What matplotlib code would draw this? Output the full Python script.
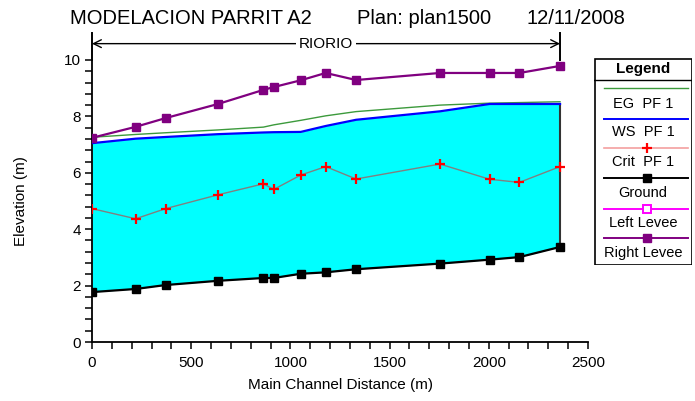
import numpy as np
import matplotlib
matplotlib.use("Agg")
import matplotlib.pyplot as plt
from matplotlib.lines import Line2D

plt.rcParams['font.family'] = ['Liberation Sans', 'DejaVu Sans']

# Profile data along the reach (main channel distance in m)
distance = [0, 220, 371, 635, 864, 916, 1052, 1178, 1331, 1754, 2004, 2154, 2359]
eg_pf1 = [7.26, 7.36, 7.42, 7.52, 7.62, 7.70, 7.86, 8.02, 8.17, 8.40, 8.47, 8.49, 8.52]
ws_pf1 = [7.05, 7.21, 7.27, 7.37, 7.43, 7.44, 7.45, 7.66, 7.88, 8.18, 8.44, 8.44, 8.44]
crit_pf1 = [4.73, 4.37, 4.73, 5.22, 5.61, 5.41, 5.92, 6.22, 5.78, 6.31, 5.77, 5.66, 6.22]
ground = [1.77, 1.88, 2.02, 2.17, 2.27, 2.27, 2.42, 2.47, 2.58, 2.78, 2.92, 3.01, 3.37]
right_levee = [7.24, 7.63, 7.94, 8.44, 8.94, 9.04, 9.28, 9.54, 9.29, 9.54, 9.54, 9.54, 9.79]

reach_name = "RIORIO"
title_parts = ["MODELACION PARRIT A2", "Plan: plan1500", "12/11/2008"]
legend_labels = ["EG  PF 1", "WS  PF 1", "Crit  PF 1", "Ground", "Left Levee", "Right Levee"]

W, H = 695, 401
fig = plt.figure(figsize=(W / 100, H / 100), dpi=100)

# main axes placed in pixel coordinates
ax_l, ax_r, ax_t, ax_b = 92, 588, 60, 342
ax = fig.add_axes([ax_l / W, 1 - ax_b / H, (ax_r - ax_l) / W, (ax_b - ax_t) / H])

x = np.array(distance)
ax.fill_between(x, ground, ws_pf1, color='#00ffff', lw=0, zorder=1)
ax.plot([x[-1], x[-1]], [ground[-1], ws_pf1[-1]], color='#333333', lw=1.5, zorder=2)
ax.plot(x, eg_pf1, color='#3c9a3c', lw=1.0, zorder=3)
ax.plot(x, ws_pf1, color='#0000ff', lw=1.6, zorder=3)
ax.plot(x, crit_pf1, color='#808080', lw=1.0, marker='+', ms=7, mew=1.6,
        mec='#ff0000', zorder=4)
ax.plot(x, ground, color='black', lw=1.6, marker='s', ms=6, zorder=4)
ax.plot(x, right_levee, color='#800080', lw=1.6, marker='s', ms=6, zorder=4)

ax.set_xlim(0, 2500)
ax.set_ylim(0, 10)
ax.set_xticks(np.arange(0, 2501, 500))
ax.set_xticks(np.arange(0, 2501, 100), minor=True)
ax.set_yticks(np.arange(0, 11, 2))
ax.set_yticks(np.arange(0, 10.01, 0.4), minor=True)
ax.tick_params(which='both', direction='out', length=5, width=1.1, labelsize=11)
ax.tick_params(axis='x', pad=5)
ax.tick_params(axis='y', pad=3)
for s in ['top', 'right']:
    ax.spines[s].set_visible(False)
for s in ['left', 'bottom']:
    ax.spines[s].set_linewidth(1.3)

ax.set_xlabel("Main Channel Distance (m)", fontsize=11, labelpad=6)
ax.set_ylabel("Elevation (m)", fontsize=11, labelpad=26)

# reach extent marker above the plot
y_bar_top, y_arrow = 10.95, 10.58
x0, x1 = x[0], x[-1]
xm = (x0 + x1) / 2
for xb in (x0, x1):
    ax.plot([xb, xb], [10.0, y_bar_top], color='black', lw=1.4, clip_on=False)
for xe in (x0, x1):
    ax.annotate('', xy=(xe, y_arrow), xytext=(xm, y_arrow), annotation_clip=False,
                arrowprops=dict(arrowstyle='->', color='black', lw=1.0,
                                shrinkA=0, shrinkB=0, mutation_scale=14))
ax.text(xm, y_arrow, reach_name, fontsize=11, ha='center', va='center',
        bbox=dict(facecolor='white', edgecolor='none', pad=2), clip_on=False)

# title pieces
for txt, px in zip(title_parts, [70, 357, 527]):
    fig.text(px / W, 1 - 19 / H, txt, fontsize=14.5, ha='left', va='center')

# legend drawn as a boxed table
lx0, lx1, ly0, ly1 = 594, 692, 58, 265
lax = fig.add_axes([lx0 / W, 1 - ly1 / H, (lx1 - lx0) / W, (ly1 - ly0) / H])
lax.set_xlim(lx0, lx1)
lax.set_ylim(ly1, ly0)
lax.axis('off')
lax.add_patch(plt.Rectangle((lx0 + 0.5, ly0 + 0.5), lx1 - lx0 - 1, ly1 - ly0 - 1,
                            fill=False, ec='black', lw=1.2))
lax.plot([lx0, lx1], [80, 80], color='black', lw=1.0)
lax.text((lx0 + lx1) / 2, 69, "Legend", fontsize=11, fontweight='bold',
         ha='center', va='center')

styles = [
    dict(color='#3c9a3c', lw=1.0),
    dict(color='#0000ff', lw=1.4),
    dict(color='#f4a0a0', lw=1.2, marker='+', ms=7, mew=1.6, mec='#ff0000'),
    dict(color='black', lw=1.4, marker='s', ms=6),
    dict(color='#ff00ff', lw=1.4, marker='s', ms=6, mfc='white', mec='#ff00ff', mew=1.4),
    dict(color='#800080', lw=1.4, marker='s', ms=6),
]
line_y = [88, 119, 148, 178, 209, 238]
text_y = [104, 132, 162, 193, 223, 253]
for st, label, yl, yt in zip(styles, legend_labels, line_y, text_y):
    lax.add_line(Line2D([604, 646.5, 688], [yl, yl, yl], markevery=[1], **st))
    lax.text((lx0 + lx1) / 2, yt, label, fontsize=10.5, ha='center', va='center')

fig.savefig("out.png", dpi=100)
